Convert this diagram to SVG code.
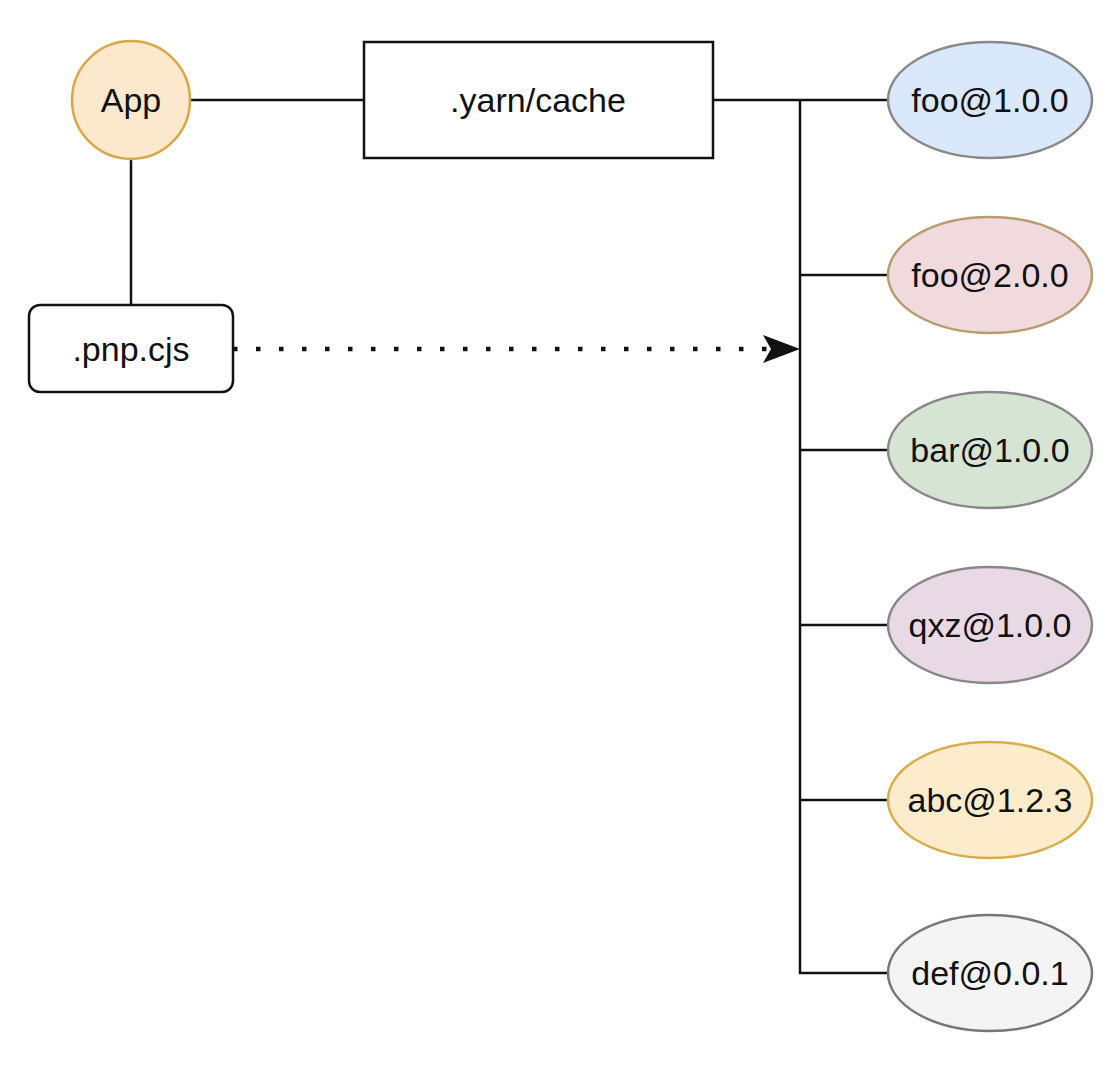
<svg xmlns="http://www.w3.org/2000/svg" width="1120" height="1075" viewBox="0 0 1120 1075">
<style>
  .lbl { font-family: "Liberation Sans", Arial, sans-serif; font-size: 34px; fill: #111; text-anchor: middle; dominant-baseline: central; }
  .edge { stroke: #111; stroke-width: 2.5; fill: none; }
  .pkg { stroke-width: 2.5; }
</style>
<defs>
  <marker id="arrow" markerUnits="userSpaceOnUse" markerWidth="40" markerHeight="30" refX="37" refY="14" orient="auto">
    <path d="M0,0 L37,14 L0,28 L8,14 Z" fill="#111"/>
  </marker>
</defs>
<rect width="1120" height="1075" fill="#ffffff"/>
<g id="connectors">
  <line class="edge" x1="190" y1="100" x2="364" y2="100"/>
  <line class="edge" x1="131" y1="159" x2="131" y2="305"/>
  <line class="edge" x1="713" y1="100" x2="888" y2="100"/>
  <line class="edge" x1="800" y1="100" x2="800" y2="974"/>
  <line class="edge" x1="800" y1="275" x2="888" y2="275"/>
  <line class="edge" x1="800" y1="450" x2="888" y2="450"/>
  <line class="edge" x1="800" y1="625" x2="888" y2="625"/>
  <line class="edge" x1="800" y1="800" x2="888" y2="800"/>
  <line class="edge" x1="799" y1="973" x2="888" y2="973"/>
  <line x1="233" y1="349" x2="800" y2="349" stroke="#111" stroke-width="4.5" stroke-dasharray="4.5 18.5" marker-end="url(#arrow)"/>
</g>
<g id="app">
  <circle cx="131" cy="100" r="59" fill="#fce8cc" stroke="#d9a845" stroke-width="2.5"/>
  <text class="lbl" x="131" y="100">App</text>
</g>
<g id="yarn-cache">
  <rect x="364" y="42" width="349" height="116" fill="#ffffff" stroke="#111" stroke-width="2.5"/>
  <text class="lbl" x="538" y="100">.yarn/cache</text>
</g>
<g id="pnp-cjs">
  <rect x="29" y="305" width="204" height="87" rx="11" fill="#ffffff" stroke="#111" stroke-width="2.5"/>
  <text class="lbl" x="131" y="349">.pnp.cjs</text>
</g>
<g id="foo100">
  <ellipse class="pkg" cx="990" cy="100" rx="102" ry="58" fill="#dae8fc" stroke="#888888"/>
  <text class="lbl" x="990" y="100">foo@1.0.0</text>
</g>
<g id="foo200">
  <ellipse class="pkg" cx="990" cy="275" rx="102" ry="58" fill="#f1dadd" stroke="#b89c70"/>
  <text class="lbl" x="990" y="275">foo@2.0.0</text>
</g>
<g id="bar100">
  <ellipse class="pkg" cx="990" cy="450" rx="102" ry="58" fill="#d6e4d4" stroke="#888888"/>
  <text class="lbl" x="990" y="450">bar@1.0.0</text>
</g>
<g id="qxz100">
  <ellipse class="pkg" cx="990" cy="625" rx="102" ry="58" fill="#e8d9e5" stroke="#888888"/>
  <text class="lbl" x="990" y="625">qxz@1.0.0</text>
</g>
<g id="abc123">
  <ellipse class="pkg" cx="990" cy="800" rx="102" ry="58" fill="#fdeccb" stroke="#d7ad4c"/>
  <text class="lbl" x="990" y="800">abc@1.2.3</text>
</g>
<g id="def001">
  <ellipse class="pkg" cx="990" cy="973" rx="102" ry="58" fill="#f4f4f4" stroke="#777777"/>
  <text class="lbl" x="990" y="973">def@0.0.1</text>
</g>
</svg>
